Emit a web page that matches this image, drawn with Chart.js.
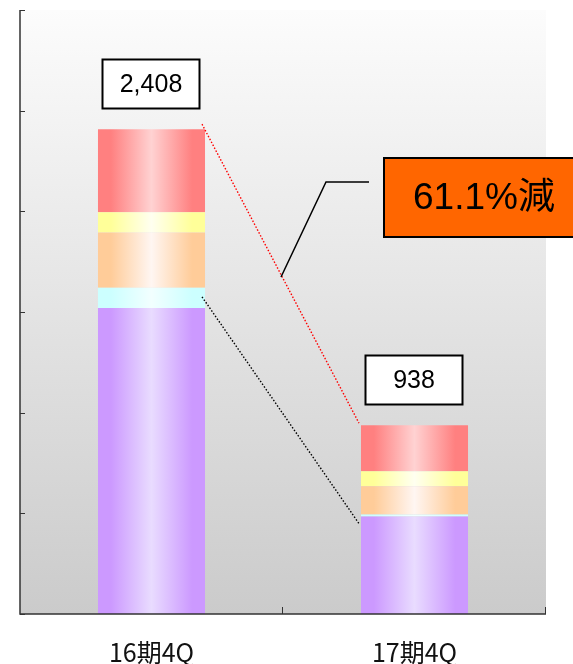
<!DOCTYPE html>
<html>
<head>
<meta charset="utf-8">
<script src="https://cdn.jsdelivr.net/npm/chart.js@4"></script>
<style>
  html, body { margin: 0; padding: 0; background: #ffffff; }
  #wrap { width: 573px; height: 664px; position: relative; }
</style>
</head>
<body>
<div id="wrap"><canvas id="chart" width="573" height="664"></canvas></div>
<script>
// Quarters and the stacked segments (bottom to top)
const periods = ['16期4Q', '17期4Q'];
const seg1 = [1520, 484];   // purple
const seg2 = [100, 10];     // cyan
const seg3 = [275, 140];    // orange
const seg4 = [100, 75];     // yellow
const seg5 = [413, 229];    // red
const yTicks = [0, 500, 1000, 1500, 2000, 2500, 3000];
const changeLabel = '61.1%減';

// edge colour / centre colour for each segment's shading
const shades = [
  ['#cc99ff', '#e9dcff'],
  ['#ccffff', '#f2ffff'],
  ['#ffcc99', '#fff6f2'],
  ['#ffff99', '#fffff0'],
  ['#ff8080', '#ffd2d2']
];

const BAR_PCT = 0.407;

const totals = periods.map((_, i) => seg1[i] + seg2[i] + seg3[i] + seg4[i] + seg5[i]);

const barShade = (k) => (context) => {
  const chart = context.chart;
  const { ctx, chartArea } = chart;
  if (!chartArea || context.dataIndex === undefined) return shades[k][0];
  const x = chart.scales.x;
  const cx = x.getPixelForValue(context.dataIndex);
  const half = (chartArea.right - chartArea.left) / periods.length * BAR_PCT / 2;
  const g = ctx.createLinearGradient(cx - half, 0, cx + half, 0);
  g.addColorStop(0, shades[k][0]);
  g.addColorStop(0.12, shades[k][0]);
  g.addColorStop(0.5, shades[k][1]);
  g.addColorStop(0.88, shades[k][0]);
  g.addColorStop(1, shades[k][0]);
  return g;
};

// plot-area backdrop, inward tick marks, value boxes, connectors and callout
const decor = {
  id: 'decor',
  beforeDraw(chart) {
    const { ctx, chartArea: a } = chart;
    ctx.save();
    const g = ctx.createLinearGradient(0, a.top, 0, a.bottom);
    g.addColorStop(0, '#fcfcfc');
    g.addColorStop(1, '#cbcbcb');
    ctx.fillStyle = g;
    ctx.fillRect(a.left, a.top, a.right - a.left, a.bottom - a.top);
    ctx.restore();
  },
  afterDatasetsDraw(chart) {
    const { ctx, chartArea: a, scales } = chart;
    const x = scales.x, y = scales.y;
    ctx.save();

    // axes
    ctx.strokeStyle = '#333333';
    ctx.lineWidth = 1.5;
    ctx.beginPath();
    ctx.moveTo(a.left, a.top);
    ctx.lineTo(a.left, a.bottom);
    ctx.lineTo(a.right, a.bottom);
    ctx.stroke();
    ctx.lineWidth = 1;
    ctx.beginPath();
    yTicks.forEach(v => {
      const py = Math.round(y.getPixelForValue(v)) + 0.5;
      ctx.moveTo(a.left, py);
      ctx.lineTo(a.left + 5, py);
    });
    const step = (a.right - a.left) / periods.length;
    for (let i = 1; i <= periods.length; i++) {
      const px = Math.round(a.left + step * i) - 0.5;
      ctx.moveTo(px, a.bottom);
      ctx.lineTo(px, a.bottom - 7);
    }
    ctx.stroke();

    const half = step * BAR_PCT / 2;
    const c0 = x.getPixelForValue(0), c1 = x.getPixelForValue(1);

    // dotted connectors between the bars
    ctx.lineWidth = 1.4;
    ctx.setLineDash([1.5, 1.8]);
    ctx.strokeStyle = '#ff0000';
    ctx.beginPath();
    ctx.moveTo(c0 + half - 3, y.getPixelForValue(totals[0]) - 5);
    ctx.lineTo(c1 - half - 2, y.getPixelForValue(totals[1]) - 2);
    ctx.stroke();
    ctx.strokeStyle = '#000000';
    ctx.beginPath();
    ctx.moveTo(c0 + half - 3, y.getPixelForValue(seg1[0] + seg2[0]) + 9);
    ctx.lineTo(c1 - half - 2, y.getPixelForValue(seg1[1]) + 7);
    ctx.stroke();
    ctx.setLineDash([]);

    // value boxes above the bars
    ctx.font = '25px "Liberation Sans", Arial, sans-serif';
    ctx.textAlign = 'center';
    ctx.textBaseline = 'middle';
    totals.forEach((t, i) => {
      const cx = x.getPixelForValue(i);
      const top = y.getPixelForValue(t);
      const bw = 97, bh = 49;
      const bx = Math.round(cx - bw / 2 - 1) + 0.5, by = Math.round(top - 21 - bh) + 0.5;
      ctx.fillStyle = '#ffffff';
      ctx.fillRect(bx, by, bw, bh);
      ctx.strokeStyle = '#000000';
      ctx.lineWidth = 2;
      ctx.strokeRect(bx, by, bw, bh);
      ctx.fillStyle = '#000000';
      ctx.fillText(t.toLocaleString('en-US'), bx + bw / 2, by + bh / 2 + 1);
    });

    // callout with leader line
    ctx.strokeStyle = '#000000';
    ctx.lineWidth = 1.5;
    ctx.beginPath();
    ctx.moveTo(281, 277);
    ctx.lineTo(326, 182);
    ctx.lineTo(369, 182);
    ctx.stroke();
    ctx.fillStyle = '#ff6600';
    ctx.fillRect(384, 158, 192, 79);
    ctx.lineWidth = 2;
    ctx.strokeRect(384, 158, 192, 79);
    ctx.fillStyle = '#000000';
    ctx.font = '37px "Liberation Sans", "Noto Sans CJK JP", sans-serif';
    ctx.fillText(changeLabel, 484, 199);

    ctx.restore();
  }
};

const datasets = [seg1, seg2, seg3, seg4, seg5].map((d, k) => ({
  data: d,
  backgroundColor: barShade(k),
  borderWidth: 0,
  categoryPercentage: 1,
  barPercentage: BAR_PCT
}));

new Chart(document.getElementById('chart'), {
  type: 'bar',
  data: { labels: periods, datasets },
  options: {
    responsive: false,
    animation: false,
    layout: { padding: { left: 20, top: 10, right: 27, bottom: 0 } },
    plugins: { legend: { display: false }, tooltip: { enabled: false } },
    scales: {
      x: {
        stacked: true,
        grid: { display: false, drawTicks: false },
        border: { display: false },
        ticks: {
          color: '#111111',
          padding: 23,
          font: { family: '"Noto Sans CJK JP", sans-serif', size: 25 }
        },
        afterFit: (s) => { s.height = 50; }
      },
      y: {
        stacked: true,
        min: 0,
        max: 3000,
        grid: { display: false, drawTicks: false },
        border: { display: false },
        ticks: { display: false, stepSize: 500 },
        afterFit: (s) => { s.width = 0; }
      }
    }
  },
  plugins: [decor]
});
</script>
</body>
</html>
